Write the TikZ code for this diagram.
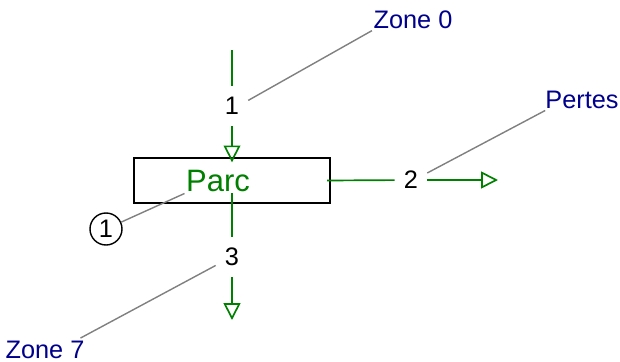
\documentclass[tikz,border=0pt]{standalone}
\usepackage{fontspec}
\setmainfont{Liberation Sans}
\usetikzlibrary{arrows.meta}
\colorlet{flow green}{green!50!black}
\colorlet{zone blue}{blue!55!black}
\colorlet{leader gray}{black!50}
\tikzset{flow/.style={draw=flow green, line width=1.2pt},
    flowarrow/.style={flow, -{Triangle[open, length=0.42cm, width=0.42cm]}},
    leader/.style={draw=leader gray, line width=1pt},
    flownum/.style={font=\fontsize{18}{21}\selectfont, minimum width=0.8cm, minimum height=1cm, inner sep=0pt},
    zonelbl/.style={font=\fontsize{18}{21}\selectfont, text=zone blue, inner sep=1pt}}

\begin{document}
\begin{tikzpicture}[x=0.025cm, y=-0.025cm]
     \useasboundingbox (0,0) rectangle (620,362);
     \node[draw, line width=1pt, minimum width=4.9cm, minimum height=1.12cm] (parc) at (232,180.5) {};
     \node[font=\fontsize{22}{25}\selectfont, text=flow green, inner sep=1pt] (parclbl) at (218,181) {Parc};
     \node[draw, circle, line width=1pt, minimum size=0.8cm, inner sep=0pt, font=\fontsize{18}{21}\selectfont] (c1) at (106,229) {1};
     \node[flownum] (n1) at (232,106) {1};
     \node[flownum] (n2) at (411,180) {2};
     \node[flownum] (n3) at (232,257) {3};
     \node[zonelbl] (zone0) at (413,20) {Zone 0};
     \node[zonelbl] (pertes) at (582,100) {Pertes};
     \node[zonelbl] (zone7) at (45,350) {Zone 7};
     \coordinate (in0) at (232,50);
     \coordinate (out2) at (498,180);
     \coordinate (out3) at (232,320);
     % flows
     \draw[flow] (in0) -- (n1);
     \draw[flowarrow] (n1) -- ([yshift=-3.5pt]parc.north);
     \draw[flow] ([xshift=-2.5pt]parc.east) -- (n2);
     \draw[flowarrow] (n2) -- (out2);
     \draw[flow] (parc |- parclbl.south) -- (n3);
     \draw[flowarrow] (n3) -- (out3);
     % leaders
     \draw[leader] ([yshift=4pt]n1.east) -- (zone0.south west);
     \draw[leader] ([yshift=5pt]n2.east) -- ([xshift=1pt]pertes.south west);
     \draw[leader] ([yshift=-6pt]n3.west) -- ([xshift=-4pt,yshift=1pt]zone7.north east);
     \draw[leader] (c1) -- (parclbl.south west);
\end{tikzpicture}
\end{document}
